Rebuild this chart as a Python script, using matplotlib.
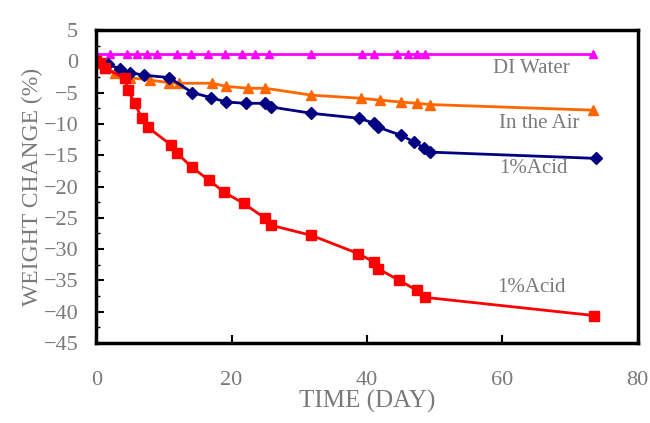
import numpy as np
import matplotlib
matplotlib.use("Agg")
import matplotlib.pyplot as plt
from matplotlib.ticker import MultipleLocator

# days / weight change (%)
t_acid_red = [0, 0.5, 1.3, 4.2, 4.7, 5.7, 6.7, 7.6, 11.1, 12.0, 14.1, 16.7, 18.9, 21.8,
              25.0, 25.9, 31.8, 38.7, 41.1, 41.6, 44.8, 47.4, 48.6, 73.5]
w_acid_red = [0, -0.3, -1.1, -2.7, -4.6, -6.7, -9.0, -10.5, -13.4, -14.7, -16.9, -19.0, -20.9, -22.7,
              -25.1, -26.2, -27.8, -30.7, -32.1, -33.1, -35.0, -36.6, -37.7, -40.6]

t_acid_blue = [0, 1.8, 3.5, 5.0, 7.0, 10.8, 14.2, 17.0, 19.2, 22.1, 25.0, 25.9, 31.8,
               38.9, 41.1, 41.6, 45.0, 47.0, 48.5, 49.3, 73.8]
w_acid_blue = [0, -0.5, -1.2, -1.8, -2.2, -2.6, -5.0, -5.8, -6.5, -6.7, -6.7, -7.3, -8.3,
               -9.1, -9.9, -10.5, -11.8, -12.9, -13.9, -14.5, -15.5]

t_air = [0, 1.3, 2.8, 5.0, 7.9, 10.8, 12.3, 17.1, 19.2, 22.5, 25.0, 31.8, 39.1, 42.0,
         45.0, 47.4, 49.3, 73.4]
w_air = [0, -1.0, -1.8, -2.6, -3.0, -3.4, -3.5, -3.5, -4.0, -4.3, -4.3, -5.4, -5.9, -6.2,
         -6.5, -6.7, -6.9, -7.8]

t_water = [0, 2, 4.5, 6, 7.5, 9, 12, 14, 16.5, 19, 21.5, 23.5, 25.5, 31.7, 39.3, 41.1,
           44.5, 46, 47.4, 48.6, 73.4]
w_water = [1.2] * len(t_water)

labels = ["DI Water", "In the Air", "1%Acid", "1%Acid"]
label_pos = [(64.3, -1.1), (65.4, -9.9), (64.6, -17.1), (64.3, -36.1)]

plt.rcParams['font.family'] = ['Liberation Serif', 'DejaVu Serif']
grey = '#7a7a7a'

fig = plt.figure(figsize=(6.5, 4.23), dpi=100)
ax = fig.add_axes([0.148, 0.189, 0.833, 0.740])

ax.plot(t_water, w_water, color='#ff00ff', marker='^', markersize=6, lw=2)
ax.plot(t_air, w_air, color='#ff6600', marker='^', markersize=7, lw=2)
ax.plot(t_acid_blue, w_acid_blue, color='#000080', marker='D', markersize=6, lw=2)
ax.plot(t_acid_red, w_acid_red, color='#ff0000', marker='s', markersize=7, lw=2)

for lab, (x, y) in zip(labels, label_pos):
    ax.text(x, y, lab, color=grey, fontsize=15, ha='center', va='center')

ax.set_xlim(0, 80)
ax.set_ylim(-45, 5)
ax.xaxis.set_major_locator(MultipleLocator(20))
ax.yaxis.set_major_locator(MultipleLocator(5))
ax.yaxis.set_minor_locator(MultipleLocator(2.5))
ax.tick_params(axis='both', which='major', direction='in', length=6, width=1.5,
               labelsize=16, labelcolor=grey)
ax.tick_params(axis='y', which='major', pad=13)
ax.tick_params(axis='x', which='major', pad=20)
ax.tick_params(axis='y', which='minor', direction='in', length=3, width=1)
for sp in ax.spines.values():
    sp.set_linewidth(2.5)

ax.set_xlabel("TIME (DAY)", fontsize=18, color=grey, labelpad=0)
ax.set_ylabel("WEIGHT CHANGE (%)", fontsize=17, color=grey, labelpad=0)

fig.savefig("out.png", dpi=100)
